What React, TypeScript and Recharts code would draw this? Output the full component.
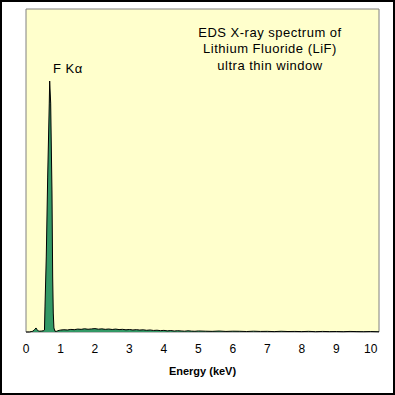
import { Area, AreaChart, ReferenceArea, XAxis, YAxis } from 'recharts'

// energy (keV) and counts
const energies = [
  0, 0.1, 0.15, 0.2, 0.25, 0.29, 0.32, 0.36, 0.4, 0.45, 0.5, 0.536, 0.551, 0.588, 0.629, 0.675,
  0.687, 0.716, 0.754, 0.774, 0.791, 0.81, 0.84, 0.88, 0.92, 0.96, 1.0, 1.1, 1.2, 1.3, 1.4, 1.5,
  1.6, 1.7, 1.8, 1.9, 2.0, 2.1, 2.2, 2.3, 2.4, 2.5, 2.6, 2.7, 2.8, 2.9, 3.0, 3.1, 3.2, 3.3, 3.4,
  3.5, 3.6, 3.7, 3.8, 3.9, 4.0, 4.1, 4.2, 4.3, 4.4, 4.5, 4.6, 4.7, 4.8, 4.9, 5.0, 5.2, 5.4, 5.6,
  5.8, 6.0, 6.2, 6.4, 6.6, 6.8, 7.0, 7.2, 7.4, 7.6, 7.8, 8.0, 8.2, 8.4, 8.6, 8.8, 9.0, 9.2, 9.4,
  9.6, 9.8, 10.0, 10.24,
]
const counts = [
  0, 0, 5, 10, 30, 50, 30, 12, 10, 12, 15, 25, 310, 929, 1919, 2835,
  3108, 2835, 1721, 681, 235, 50, 10, 8, 15, 20, 24, 28, 25, 32, 29, 36,
  33, 40, 34, 38, 42, 35, 39, 33, 37, 31, 36, 30, 33, 27, 31, 25, 29, 24, 27,
  21, 25, 19, 22, 17, 20, 14, 18, 12, 16, 13, 10, 15, 11, 9, 13, 10, 8, 12,
  7, 10, 9, 6, 10, 7, 8, 5, 9, 6, 7, 5, 8, 4, 7, 5, 6, 4, 7,
  5, 4, 6, 3,
]

const data = energies.map((e, i) => ({ energy: e, counts: counts[i] }))

const xTicks = [0, 1, 2, 3, 4, 5, 6, 7, 8, 9, 10]
const titleLines = ['EDS X-ray spectrum of', 'Lithium Fluoride (LiF)', 'ultra thin window']
const peakLabel = 'F Kα'

const FONT = '"Liberation Sans", Arial, sans-serif'
const X_MAX = 10.24
const Y_MAX = 4000

export default function App() {
  return (
    <div
      style={{
        position: 'absolute',
        left: 0,
        top: 0,
        width: 395,
        height: 395,
        background: '#ffffff',
        fontFamily: FONT,
      }}
    >
      <AreaChart
        width={395}
        height={395}
        data={data}
        margin={{ top: 9, right: 16, bottom: 0, left: 26 }}
      >
        <XAxis
          dataKey="energy"
          type="number"
          domain={[0, X_MAX]}
          ticks={xTicks}
          allowDataOverflow
          axisLine={false}
          tickLine={false}
          tickMargin={6}
          height={63}
          tick={{ fill: '#000000', fontSize: 12, fontFamily: FONT }}
          label={{
            value: 'Energy (keV)',
            position: 'insideBottom',
            offset: 20,
            fill: '#000000',
            fontSize: 11,
            fontWeight: 'bold',
            fontFamily: FONT,
          }}
        />
        <YAxis hide type="number" domain={[0, Y_MAX]} />
        <ReferenceArea
          x1={0}
          x2={X_MAX}
          y1={0}
          y2={Y_MAX}
          fill="#ffffcc"
          fillOpacity={1}
          stroke="#808080"
          strokeWidth={1}
        />
        <Area
          dataKey="counts"
          type="linear"
          stroke="#000000"
          strokeWidth={1}
          fill="#339966"
          fillOpacity={1}
          dot={false}
          activeDot={false}
          isAnimationActive={false}
        />
      </AreaChart>
      <div
        style={{
          position: 'absolute',
          left: 195,
          top: 25,
          width: 150,
          textAlign: 'center',
          fontSize: 13,
          lineHeight: '16.3px',
          letterSpacing: 0.5,
          color: '#000000',
          whiteSpace: 'nowrap',
        }}
      >
        {titleLines.map((t) => (
          <div key={t}>{t}</div>
        ))}
      </div>
      <div
        style={{
          position: 'absolute',
          left: 53,
          top: 61,
          fontSize: 13,
          letterSpacing: 0.5,
          color: '#000000',
          whiteSpace: 'nowrap',
        }}
      >
        {peakLabel}
      </div>
      <div
        style={{
          position: 'absolute',
          left: 0,
          top: 0,
          width: 395,
          height: 395,
          boxSizing: 'border-box',
          border: '2px solid #000000',
          pointerEvents: 'none',
        }}
      />
    </div>
  )
}
